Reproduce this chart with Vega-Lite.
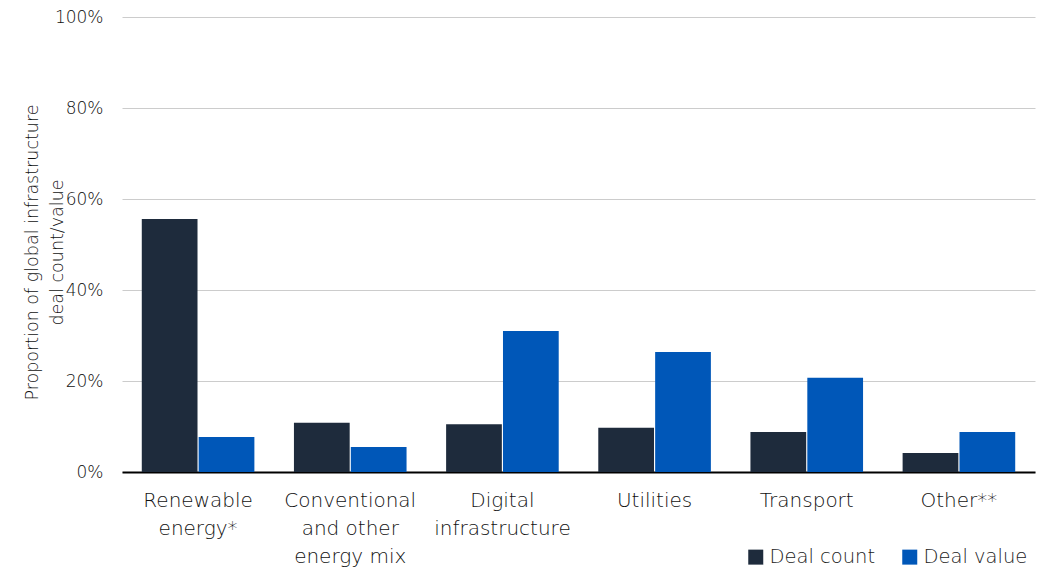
{
  "$schema": "https://vega.github.io/schema/vega-lite/v6.json",
  "width": 913,
  "height": 455,
  "autosize": {"type": "none"},
  "padding": {"left": 122, "top": 17, "right": 13, "bottom": 98},
  "background": "white",
  "config": {
    "view": {"stroke": null},
    "font": "DejaVu Sans"
  },
  "data": {
    "values": [
      {"sector": "Renewable|energy*", "series": "Deal count", "value": 0.556},
      {"sector": "Renewable|energy*", "series": "Deal value", "value": 0.077},
      {"sector": "Conventional|and other|energy mix", "series": "Deal count", "value": 0.108},
      {"sector": "Conventional|and other|energy mix", "series": "Deal value", "value": 0.055},
      {"sector": "Digital|infrastructure", "series": "Deal count", "value": 0.105},
      {"sector": "Digital|infrastructure", "series": "Deal value", "value": 0.310},
      {"sector": "Utilities", "series": "Deal count", "value": 0.097},
      {"sector": "Utilities", "series": "Deal value", "value": 0.264},
      {"sector": "Transport", "series": "Deal count", "value": 0.088},
      {"sector": "Transport", "series": "Deal value", "value": 0.207},
      {"sector": "Other**", "series": "Deal count", "value": 0.042},
      {"sector": "Other**", "series": "Deal value", "value": 0.088}
    ]
  },
  "mark": {"type": "bar"},
  "encoding": {
    "x": {
      "field": "sector",
      "type": "nominal",
      "sort": null,
      "scale": {"paddingInner": 0.26, "paddingOuter": 0.13},
      "axis": {
        "title": null,
        "labelAngle": 0,
        "labelExpr": "split(datum.label, '|')",
        "labelFontSize": 20,
        "labelFontWeight": 200,
        "labelColor": "#111111",
        "labelPadding": 18,
        "labelLineHeight": 28,
        "labelBaseline": "top",
        "labelOverlap": false,
        "ticks": false,
        "domainColor": "#000000",
        "domainWidth": 2,
        "labelLimit": 200
      }
    },
    "xOffset": {
      "field": "series",
      "type": "nominal",
      "scale": {"paddingInner": 0.02}
    },
    "y": {
      "field": "value",
      "type": "quantitative",
      "scale": {"domain": [0, 1]},
      "axis": {
        "format": ".0%",
        "values": [0, 0.2, 0.4, 0.6, 0.8, 1],
        "labelOverlap": false,
        "domain": false,
        "ticks": false,
        "labelFontSize": 17,
        "labelFontWeight": 200,
        "labelColor": "#111111",
        "labelPadding": 19,
        "gridColor": "#cccccc",
        "gridWidth": 1,
        "title": ["Proportion of global infrastructure", "deal count/value"],
        "titleFontSize": 17.5,
        "titleFontWeight": 200,
        "titleColor": "#111111",
        "titleAngle": -90,
        "titleLineHeight": 25,
        "titleX": -99,
        "titleY": 235,
        "titleAlign": "center",
        "titleBaseline": "top"
      }
    },
    "color": {
      "field": "series",
      "type": "nominal",
      "scale": {"domain": ["Deal count", "Deal value"], "range": ["#1e2b3c", "#0057b8"]},
      "legend": {
        "title": null,
        "orient": "none",
        "direction": "horizontal",
        "legendX": 624,
        "legendY": 530,
        "symbolType": "square",
        "symbolSize": 225,
        "symbolStrokeWidth": 0,
        "labelFontSize": 19.5,
        "labelFontWeight": 200,
        "labelColor": "#222222",
        "labelOffset": 4,
        "columnPadding": 24
      }
    }
  }
}
